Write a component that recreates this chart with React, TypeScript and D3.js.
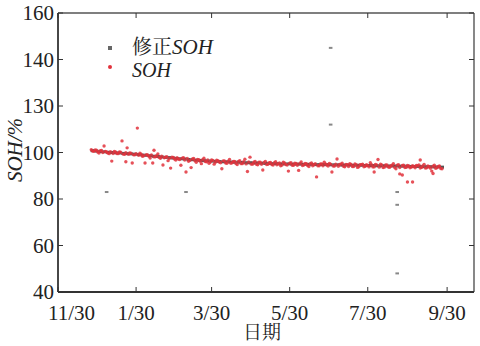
import React from "react";
import * as d3 from "d3";

// x values are days since 2016-11-30
const xTickDays = [0, 61, 120, 181, 242, 304];
const xTickLabels = ["11/30", "1/30", "3/30", "5/30", "7/30", "9/30"];
const yTickValues = [40, 60, 80, 100, 120, 140, 160];
const yTickLabels = ["40", "60", "80", "100", "130", "140", "160"];

// corrected SOH [day, value]
const corrected: [number, number][] = [
  [27, 100.8], [30, 100.6], [33, 100.4], [36, 100.3], [39, 100.1], [42, 100.0], [45, 99.9], [48, 99.8],
  [51, 99.6], [54, 99.5], [57, 99.4], [60, 99.3], [63, 99.1], [66, 98.9], [69, 98.8], [72, 98.6],
  [75, 98.4], [78, 98.3], [81, 98.1], [84, 97.9], [87, 97.8], [90, 97.6], [93, 97.4], [96, 97.3],
  [99, 97.2], [102, 97.0], [105, 96.9], [108, 96.7], [111, 96.6], [114, 96.5], [117, 96.4], [120, 96.3],
  [123, 96.2], [126, 96.1], [129, 96.0], [132, 96.0], [135, 95.9], [138, 95.8], [141, 95.8], [144, 95.7],
  [147, 95.6], [150, 95.6], [153, 95.5], [156, 95.5], [159, 95.4], [162, 95.3], [165, 95.3], [168, 95.2],
  [171, 95.2], [174, 95.1], [177, 95.1], [180, 95.1], [183, 95.0], [186, 95.0], [189, 95.0], [192, 94.9],
  [195, 94.9], [198, 94.9], [201, 94.8], [204, 94.8], [207, 94.8], [210, 94.8], [213, 94.7], [216, 94.7],
  [219, 94.7], [222, 94.6], [225, 94.6], [228, 94.6], [231, 94.5], [234, 94.5], [237, 94.5], [240, 94.4],
  [243, 94.4], [246, 94.4], [249, 94.3], [252, 94.3], [255, 94.3], [258, 94.2], [261, 94.2], [264, 94.2],
  [267, 94.1], [270, 94.1], [273, 94.1], [276, 94.0], [279, 94.0], [282, 94.0], [285, 93.9], [288, 93.9],
  [291, 93.9], [294, 93.8], [297, 93.8], [300, 93.7],
];

// corrected SOH outliers
const correctedOutliers: [number, number][] = [
  [38, 83], [100, 83], [213, 145], [213, 112], [265, 83], [265, 77.5], [265, 48],
];

// raw SOH, scattered points [day, value]
const soh: [number, number][] = [
  [26, 101.2], [28, 100.5], [30, 101.0], [32, 99.8], [34, 100.9], [36, 102.8], [38, 100.2], [40, 99.5],
  [42, 96.3], [44, 100.4], [46, 99.6], [48, 100.2], [50, 105.0], [52, 99.2], [53, 96.0], [54, 102.0],
  [56, 99.8], [58, 95.5], [60, 99.0], [62, 110.5], [64, 99.7], [66, 98.4], [68, 95.5], [70, 98.9],
  [72, 97.6], [74, 95.5], [75, 101.0], [76, 98.2], [78, 99.4], [80, 97.5], [82, 94.6], [84, 98.0],
  [86, 96.5], [88, 93.3], [90, 97.9], [92, 96.8], [94, 97.2], [96, 94.5], [98, 97.8], [100, 91.6],
  [102, 96.2], [104, 93.5], [106, 97.4], [108, 95.8], [110, 96.9], [112, 95.2], [114, 97.5], [116, 96.0],
  [118, 95.4], [120, 96.8], [122, 95.0], [124, 96.7], [126, 95.9], [128, 93.0], [130, 96.4], [132, 95.4],
  [134, 97.0], [136, 95.6], [138, 96.2], [140, 94.8], [142, 96.5], [144, 95.2], [146, 97.1], [148, 91.8],
  [150, 98.0], [152, 95.0], [154, 96.1], [156, 94.7], [158, 95.8], [160, 92.5], [162, 96.2], [164, 94.9],
  [166, 95.7], [168, 94.6], [170, 96.0], [172, 95.1], [174, 94.3], [176, 95.8], [178, 94.8], [180, 92.0],
  [182, 95.6], [184, 94.5], [186, 95.3], [188, 92.3], [190, 95.9], [192, 94.6], [194, 95.2], [196, 94.0],
  [198, 95.5], [200, 94.7], [202, 89.5], [204, 94.3], [206, 95.1], [208, 95.8], [210, 94.6], [212, 95.3],
  [214, 91.6], [216, 94.2], [218, 97.2], [220, 94.9], [222, 95.4], [224, 93.9], [226, 94.8], [228, 95.2],
  [230, 94.0], [232, 95.1], [234, 93.6], [236, 94.7], [238, 95.0], [240, 94.1], [242, 94.4], [244, 95.6],
  [246, 93.8], [247, 91.6], [248, 94.9], [250, 97.0], [252, 95.0], [254, 93.5], [256, 94.6], [258, 93.8],
  [260, 94.2], [262, 95.2], [264, 93.0], [266, 94.8], [267, 90.8], [269, 90.3], [270, 94.5], [272, 93.6],
  [273, 87.3], [274, 94.2], [276, 93.7], [277, 87.3], [278, 94.0], [280, 94.4], [283, 96.8], [282, 94.6],
  [284, 93.6], [286, 94.9], [288, 93.4], [290, 93.9], [292, 92.0], [293, 91.0], [294, 94.5], [296, 93.4],
  [298, 94.2], [300, 93.0],
];

// raw SOH, points close to the trend [day, value]
const sohDense: [number, number][] = [
  [27, 100.6], [29, 101.1], [31, 100.2], [33, 100.8], [35, 100.0], [37, 100.5], [39, 99.8], [41, 100.3],
  [43, 99.6], [45, 100.2], [47, 99.5], [49, 100.1], [51, 99.3], [53, 99.9], [55, 99.2], [57, 99.7],
  [59, 99.0], [61, 99.5], [63, 98.8], [65, 99.3], [67, 98.6], [69, 99.1], [71, 98.4], [73, 98.9],
  [75, 98.1], [77, 98.6], [79, 97.9], [81, 98.4], [83, 97.7], [85, 98.2], [87, 97.4], [89, 98.0],
  [91, 97.2], [93, 97.8], [95, 97.0], [97, 97.6], [99, 96.8], [101, 97.4], [103, 96.6], [105, 97.2],
  [107, 96.5], [109, 97.0], [111, 96.2], [113, 96.9], [115, 96.1], [117, 96.8], [119, 95.9], [121, 96.6],
  [123, 95.8], [125, 96.5], [127, 95.6], [129, 96.4], [131, 95.5], [133, 96.3], [135, 95.4], [137, 96.2],
  [139, 95.3], [141, 96.1], [143, 95.2], [145, 96.0], [147, 95.1], [149, 95.9], [151, 95.0], [153, 95.8],
  [155, 94.9], [157, 95.8], [159, 94.9], [161, 95.7], [163, 94.8], [165, 95.6], [167, 94.8], [169, 95.6],
  [171, 94.7], [173, 95.5], [175, 94.6], [177, 95.5], [179, 94.6], [181, 95.4], [183, 94.5], [185, 95.4],
  [187, 94.5], [189, 95.3], [191, 94.4], [193, 95.3], [195, 94.4], [197, 95.2], [199, 94.3], [201, 95.2],
  [203, 94.3], [205, 95.1], [207, 94.3], [209, 95.1], [211, 94.2], [213, 95.0], [215, 94.2], [217, 95.0],
  [219, 94.1], [221, 95.0], [223, 94.1], [225, 94.9], [227, 94.0], [229, 94.9], [231, 94.0], [233, 94.8],
  [235, 93.9], [237, 94.8], [239, 93.9], [241, 94.7], [243, 93.8], [245, 94.7], [247, 93.8], [249, 94.6],
  [251, 93.7], [253, 94.6], [255, 93.7], [257, 94.6], [259, 93.6], [261, 94.5], [263, 93.6], [265, 94.5],
  [267, 93.5], [269, 94.4], [271, 93.5], [273, 94.4], [275, 93.4], [277, 94.3], [279, 93.4], [281, 94.3],
  [283, 93.3], [285, 94.2], [287, 93.3], [289, 94.2], [291, 93.2], [293, 94.1], [295, 93.2], [297, 94.0],
  [299, 93.1],
];

const W = 480;
const H = 346;
const M = { left: 58, right: 474, top: 13, bottom: 292 };

export default function App() {
  const x = d3.scaleLinear().domain([0, 325]).range([M.left, M.right]);
  const y = d3.scaleLinear().domain([40, 160]).range([M.bottom, M.top]);
  const serifStyle = { fontFamily: "Liberation Serif" };
  const cjkStyle = { fontFamily: "Noto Serif CJK SC" };
  const axisColor = "#333";
  const red = "#e2323c";
  const gray = "#555";

  return (
    <div style={{ position: "absolute", left: 0, top: 0 }}>
      <svg width={W} height={H} style={{ display: "block", background: "#fff" }}>
        {/* frame */}
        <line x1={M.left} x2={M.right} y1={M.top} y2={M.top} stroke="#555" strokeWidth={1.4} />
        <line x1={M.right} x2={M.right} y1={M.top} y2={M.bottom} stroke="#555" strokeWidth={1.4} />
        <line x1={M.left} x2={M.right} y1={M.bottom} y2={M.bottom} stroke={axisColor} strokeWidth={1.8} />
        <line x1={M.left} x2={M.left} y1={M.top} y2={M.bottom} stroke={axisColor} strokeWidth={1.8} />
        {/* x ticks */}
        {xTickDays.map((d, i) => (
          <g key={"xt" + i}>
            <line x1={x(d)} x2={x(d)} y1={M.bottom} y2={M.bottom - 5} stroke={axisColor} strokeWidth={1} />
            <line x1={x(d)} x2={x(d)} y1={M.top} y2={M.top + 5} stroke={axisColor} strokeWidth={1} />
            <text x={i === 0 ? x(d) - 10 : x(d)} y={M.bottom + 28} textAnchor={i === 0 ? "start" : "middle"}
              style={serifStyle} fontSize={21} fill="#222">
              {xTickLabels[i]}
            </text>
          </g>
        ))}
        {/* y ticks */}
        {yTickValues.map((v, i) => (
          <g key={"yt" + i}>
            <line x1={M.left} x2={M.left + 5} y1={y(v)} y2={y(v)} stroke={axisColor} strokeWidth={1} />
            <line x1={M.right} x2={M.right - 5} y1={y(v)} y2={y(v)} stroke={axisColor} strokeWidth={1} />
            <text x={M.left - 4} y={y(v) + 7} textAnchor="end" style={serifStyle} fontSize={21} fill="#222">
              {yTickLabels[i]}
            </text>
          </g>
        ))}
        {/* axis titles */}
        <text x={262} y={339} textAnchor="middle" style={cjkStyle} fontSize={19} fill="#222">日期</text>
        <text transform={`translate(22,150) rotate(-90)`} textAnchor="middle" style={serifStyle}
          fontStyle="italic" fontSize={21} fill="#222">SOH/%</text>

        {/* corrected SOH */}
        {corrected.map(([d, v], i) => (
          <rect key={"c" + i} x={x(d) - 2} y={y(v) - 1.5} width={4} height={3} fill={gray} />
        ))}
        {correctedOutliers.map(([d, v], i) => (
          <rect key={"co" + i} x={x(d) - 1.8} y={y(v) - 1} width={3.6} height={2} fill="#888" />
        ))}
        {/* raw SOH */}
        {sohDense.map(([d, v], i) => (
          <circle key={"sd" + i} cx={x(d)} cy={y(v)} r={1.7} fill={red} fillOpacity={0.8} />
        ))}
        {soh.map(([d, v], i) => (
          <circle key={"s" + i} cx={x(d)} cy={y(v)} r={1.7} fill={red} fillOpacity={0.85} />
        ))}

        {/* legend */}
        <rect x={108} y={46} width={4} height={4} fill="#666" />
        <text x={132} y={54} fontSize={20} fill="#222">
          <tspan style={cjkStyle} fontSize={20}>修正</tspan>
          <tspan style={serifStyle} fontStyle="italic" fontSize={21}>SOH</tspan>
        </text>
        <circle cx={110} cy={67} r={2} fill={red} />
        <text x={132} y={76.5} style={serifStyle} fontStyle="italic" fontSize={20} fill="#222">SOH</text>
      </svg>
    </div>
  );
}
